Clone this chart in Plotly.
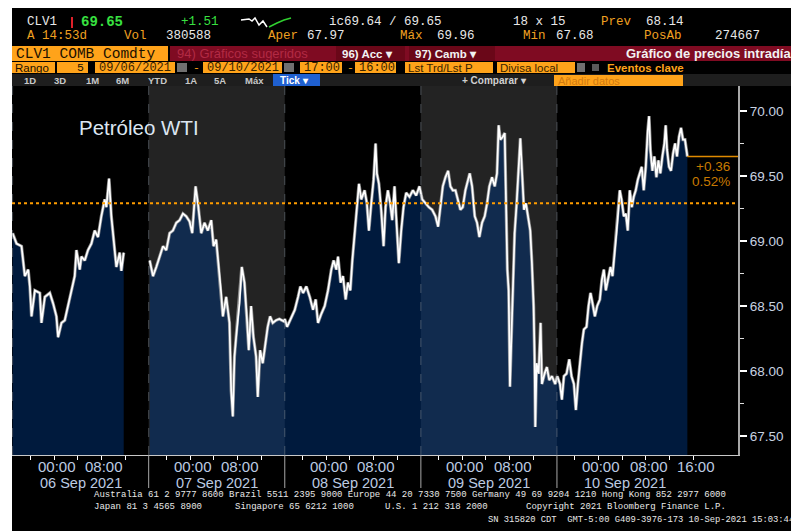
import plotly.graph_objects as go

# ---------------- data ----------------
day_labels = ["06 Sep 2021", "07 Sep 2021", "08 Sep 2021", "09 Sep 2021", "10 Sep 2021"]
session_hours = 23  # 17:00 -> 16:00

# hours since 17:00 of the previous day, and CL price
sep06_hours = [0, 0.67, 1.51, 2.07, 2.64, 2.92, 3.2, 3.76, 4.6, 4.88, 5.45, 6.29, 6.85, 7.41, 7.69, 8.26, 8.82, 9.38,
               9.94, 10.5, 10.79, 11.35, 11.63, 12.19, 12.75, 13.32, 13.88, 14.44, 15.0, 15.57, 15.85, 16.3, 16.69,
               17.26, 17.54, 18.1, 18.38, 18.78]
sep06_prices = [69.06, 68.98, 68.96, 68.73, 68.78, 68.65, 68.42, 68.62, 68.60, 68.37, 68.57, 68.60, 68.52, 68.42,
                68.26, 68.37, 68.39, 68.50, 68.60, 68.73, 68.93, 68.78, 68.88, 68.85, 68.93, 68.98, 69.08, 69.03,
                69.19, 69.32, 69.26, 69.48, 69.19, 68.93, 68.80, 68.91, 68.77, 68.91]

sep07_hours = [0.17, 0.73, 1.29, 1.85, 2.42, 2.98, 3.54, 4.10, 4.67, 5.23, 5.79, 6.35, 6.91, 7.36, 7.93, 8.32, 8.88,
               9.44, 10.0, 10.57, 10.96, 11.41, 11.86, 12.25, 12.54, 13.1, 13.66, 13.94, 14.22, 14.5, 14.78, 15.35,
               15.74, 16.19, 16.58, 16.92, 17.31, 17.71, 18.16, 18.44, 18.83, 19.28, 19.73, 20.12, 20.52, 20.97,
               21.53, 22.09, 22.93]
sep07_prices = [68.85, 68.73, 68.80, 68.88, 68.96, 68.93, 69.06, 69.08, 69.14, 69.16, 69.21, 69.19, 69.15, 69.06,
                69.42, 69.29, 69.06, 69.14, 69.08, 69.16, 68.96, 69.01, 68.80, 68.60, 68.42, 68.57, 68.37, 67.85,
                67.65, 68.11, 68.26, 68.52, 68.80, 68.68, 68.42, 68.16, 68.50, 68.26, 68.11, 67.80, 68.16, 68.06,
                68.21, 68.34, 68.42, 68.37, 68.39, 68.40, 68.38]

sep08_hours = [0, 0.39, 1.12, 1.69, 2.25, 2.64, 3.09, 3.65, 4.22, 4.78, 5.23, 5.62, 6.18, 6.75, 7.31, 7.87, 8.26,
               8.71, 9.0, 9.44, 9.84, 10.29, 10.68, 11.08, 11.42, 11.81, 12.2, 12.54, 12.93, 13.49, 13.88, 14.22,
               14.62, 15.01, 15.35, 15.57, 15.91, 16.3, 16.7, 17.03, 17.43, 17.82, 18.16, 18.55, 18.83, 19.28, 19.68,
               20.07, 20.52, 21.08, 21.65, 22.21, 22.77, 22.95]
sep08_prices = [68.40, 68.34, 68.42, 68.47, 68.57, 68.65, 68.60, 68.65, 68.57, 68.47, 68.55, 68.37, 68.44, 68.50,
                68.62, 68.78, 68.85, 68.78, 68.88, 68.68, 68.73, 68.55, 68.68, 68.62, 68.85, 69.06, 69.24, 69.44,
                69.32, 69.39, 69.29, 69.08, 69.29, 69.47, 69.75, 69.52, 69.44, 69.24, 68.96, 69.26, 69.39, 69.29,
                69.16, 69.42, 69.19, 68.83, 69.08, 69.26, 69.37, 69.34, 69.39, 69.35, 69.42, 69.37]

sep09_hours = [0.22, 0.79, 1.35, 1.91, 2.47, 2.92, 3.32, 3.71, 4.16, 4.61, 5.0, 5.4, 5.85, 6.3, 6.69, 7.08, 7.53,
               7.98, 8.26, 8.66, 9.11, 9.5, 9.89, 10.34, 10.79, 11.19, 11.58, 12.03, 12.48, 12.87, 13.15, 13.43,
               13.83, 14.17, 14.39, 14.62, 14.84, 15.06, 15.29, 15.57, 15.85, 16.19, 16.53, 16.81, 17.09, 17.43,
               17.76, 18.1, 18.49, 18.77, 19.06, 19.22, 19.34, 19.56, 19.9, 20.24, 20.46, 20.91, 21.3, 21.7, 22.15,
               22.71]
sep09_prices = [69.32, 69.29, 69.26, 69.24, 69.19, 69.11, 69.29, 69.42, 69.49, 69.54, 69.42, 69.39, 69.39, 69.32,
                69.24, 69.26, 69.39, 69.47, 69.52, 69.42, 69.19, 69.14, 69.03, 69.14, 69.19, 69.29, 69.42, 69.49,
                69.42, 69.52, 69.89, 69.78, 69.80, 69.83, 69.39, 68.78, 68.62, 67.88, 68.24, 68.62, 69.06, 69.29,
                69.60, 69.79, 69.54, 69.24, 69.29, 69.19, 69.08, 68.83, 68.50, 68.11, 67.57, 68.06, 67.98, 68.37,
                67.90, 67.98, 68.03, 67.93, 67.96, 67.90]

sep10_hours = [0.06, 0.51, 0.84, 1.18, 1.63, 2.08, 2.47, 2.87, 3.2, 3.54, 3.88, 4.22, 4.55, 5.0, 5.34, 5.68, 6.02,
               6.41, 6.8, 7.25, 7.59, 7.93, 8.26, 8.66, 9.05, 9.39, 9.73, 10.06, 10.34, 10.62, 10.91, 11.3, 11.64,
               11.97, 12.31, 12.65, 12.98, 13.32, 13.66, 14.0, 14.33, 14.67, 15.01, 15.35, 15.57, 15.8, 16.13, 16.47,
               16.81, 17.15, 17.48, 17.82, 18.16, 18.38, 18.61, 18.94, 19.28, 19.62, 19.96, 20.29, 20.63, 20.97,
               21.3, 21.64, 21.87, 22.04]
sep10_prices = [67.96, 67.90, 67.78, 67.96, 67.98, 68.09, 67.96, 67.90, 67.70, 67.90, 68.09, 68.21, 68.32, 68.34,
                68.50, 68.60, 68.52, 68.42, 68.50, 68.55, 68.70, 68.78, 68.62, 68.70, 68.80, 68.73, 68.93, 69.06,
                69.21, 69.39, 69.32, 69.19, 69.21, 69.08, 69.39, 69.26, 69.34, 69.39, 69.47, 69.52, 69.57, 69.39,
                69.57, 69.85, 69.96, 69.70, 69.54, 69.65, 69.49, 69.62, 69.52, 69.65, 69.75, 69.89, 69.70, 69.57,
                69.54, 69.67, 69.75, 69.65, 69.80, 69.87, 69.78, 69.78, 69.67, 69.65]

reference_price = 69.29
last_price = 69.65
change_text = "+0.36"
change_pct_text = "0.52%"

time_tick_hours = [7, 15]          # 00:00 and 08:00 within a session
time_tick_labels = ["00:00", "08:00"]
minor_tick_hours = [3, 7, 11, 15, 19]
y_ticks = [67.5, 68.0, 68.5, 69.0, 69.5, 70.0]
y_minor_ticks = [67.75, 68.25, 68.75, 69.25, 69.75]

# ---------------- geometry helpers ----------------
OFF = 8                      # page body margin
W, H = 799 - OFF, 531 - OFF  # figure size
PL, PR, PT, PB = 12, 738, 86, 455   # plot area in screenshot pixels
XMIN, XMAX = -0.1, 122.6
YMIN, YMAX = 67.354, 70.192


def px(x):
    return (x - PL) / (PR - PL)


def py(y):
    return (PB - y) / (PB - PT)


def xdata_to_paper(v):
    return (v - XMIN) / (XMAX - XMIN)


MONO = "Liberation Mono"
SANS = "Liberation Sans"

days_hours = [sep06_hours, sep07_hours, sep08_hours, sep09_hours, sep10_hours]
days_prices = [sep06_prices, sep07_prices, sep08_prices, sep09_prices, sep10_prices]

segA_x = list(sep06_hours)
segA_y = list(sep06_prices)
segB_x, segB_y = [], []
for d in range(1, 5):
    segB_x += [d * session_hours + h for h in days_hours[d]]
    segB_y += days_prices[d]

fig = go.Figure()
for sx, sy in [(segA_x, segA_y), (segB_x, segB_y)]:
    fig.add_trace(go.Scatter(x=sx, y=sy, mode="lines", line=dict(width=0), fill="tozeroy",
                             fillcolor="rgba(0,52,122,0.5)", hoverinfo="skip", showlegend=False))
for sx, sy in [(segA_x, segA_y), (segB_x, segB_y)]:
    fig.add_trace(go.Scatter(x=sx, y=sy, mode="lines", line=dict(width=3.2, color="rgba(165,165,165,0.8)"),
                             hoverinfo="skip", showlegend=False))
    fig.add_trace(go.Scatter(x=sx, y=sy, mode="lines", line=dict(width=1.7, color="#ffffff"),
                             hoverinfo="skip", showlegend=False))

shapes = []
annotations = []


def box(x0, y0, x1, y1, color, layer="above"):
    shapes.append(dict(type="rect", xref="paper", yref="paper", x0=px(x0), x1=px(x1), y0=py(y1), y1=py(y0),
                       fillcolor=color, line=dict(width=0), layer=layer))


def text(t, x, y, color, size, family=MONO, anchor="left", bold=False):
    if bold:
        t = "<b>" + t + "</b>"
    annotations.append(dict(text=t, x=px(x), y=py(y), xref="paper", yref="paper", xanchor=anchor,
                            yanchor="middle", showarrow=False, font=dict(color=color, size=size, family=family)))


# gray bands for alternating days
for d in [1, 3]:
    shapes.append(dict(type="rect", xref="x", yref="paper", x0=d * session_hours, x1=(d + 1) * session_hours,
                       y0=0, y1=1, fillcolor="#232323", line=dict(width=0), layer="below"))
# dashed day separators in plot
for d in range(5):
    shapes.append(dict(type="line", xref="x", yref="paper", x0=d * session_hours, x1=d * session_hours, y0=0, y1=1,
                       line=dict(color="rgba(120,130,140,0.55)", width=1, dash="dash"), layer="above"))
# separators below axis
for d in range(1, 5):
    shapes.append(dict(type="line", xref="x", yref="paper", x0=d * session_hours, x1=d * session_hours, y0=py(488),
                       y1=0, line=dict(color="#a8a8a8", width=1)))

# reference dotted line and last price line
shapes.append(dict(type="line", xref="paper", yref="y", x0=0, x1=1, y0=reference_price, y1=reference_price,
                   line=dict(color="#ff9d00", width=2, dash="dot")))
last_x = 4 * session_hours + sep10_hours[-1]
shapes.append(dict(type="line", xref="paper", yref="y", x0=xdata_to_paper(last_x), x1=1, y0=last_price,
                   y1=last_price, line=dict(color="#e08a00", width=1.5)))
text(change_text, 732, 166, "#c87a00", 13.5, family=SANS, anchor="right")
text(change_pct_text, 732, 181, "#c87a00", 13.5, family=SANS, anchor="right")

# chart title
text("Petróleo WTI", 77, 128, "#dce6f2", 20.5, family=SANS)

# time labels and date labels under axis
for d, lab in enumerate(day_labels):
    for h, tl in zip(time_tick_hours, time_tick_labels):
        annotations.append(dict(text=tl, x=d * session_hours + h + 0.5, y=py(466), xref="x", yref="paper",
                                xanchor="center", yanchor="middle", showarrow=False,
                                font=dict(color="#bccbe2", size=15, family=SANS)))
    annotations.append(dict(text=lab, x=d * session_hours + session_hours / 2, y=py(482.5),
                            xref="x", yref="paper", xanchor="center", yanchor="middle", showarrow=False,
                            font=dict(color="#bccbe2", size=14.5, family=SANS)))
annotations.append(dict(text="16:00", x=5 * session_hours + 0.5, y=py(466), xref="x", yref="paper",
                        xanchor="center", yanchor="middle", showarrow=False,
                        font=dict(color="#bccbe2", size=15, family=SANS)))

# ---------------- header ----------------
box(OFF, OFF, 12, 531, "#ffffff")

# row 1
text("CLV1", 25, 22, "#e8e8e8", 12.5)
box(71, 17, 73, 28, "#e0202a")
text("69.65", 79, 22, "#38e040", 14, bold=True)
text("+1.51", 179, 22, "#38e040", 12.5)
shapes.append(dict(type="path", xref="paper", yref="paper",
                   path="M {} {} L {} {} L {} {} L {} {} L {} {} L {} {} L {} {}".format(
                       px(241), py(20), px(249), py(19), px(252), py(21), px(255), py(18), px(259), py(25),
                       px(263), py(21), px(267), py(27)),
                   line=dict(color="#ffffff", width=1.5)))
shapes.append(dict(type="path", xref="paper", yref="paper",
                   path="M {} {} L {} {} L {} {} L {} {}".format(
                       px(269), py(27), px(277), py(23), px(284), py(20), px(291), py(18)),
                   line=dict(color="#30d030", width=1.5)))
text("ic69.64 / 69.65", 327, 22, "#e8e8e8", 12.5)
text("18 x 15", 511, 22, "#e8e8e8", 12.5)
text("Prev", 599, 22, "#f0a020", 12.5)
text("68.14", 644, 22, "#e8e8e8", 12.5)

# row 2
text("A 14:53d", 25, 36, "#f0a020", 12.5)
text("Vol", 122, 36, "#f0a020", 12.5)
text("380588", 164, 36, "#e8e8e8", 12.5)
text("Aper", 266, 36, "#f0a020", 12.5)
text("67.97", 305, 36, "#e8e8e8", 12.5)
text("Máx", 398, 36, "#f0a020", 12.5)
text("69.96", 435, 36, "#e8e8e8", 12.5)
text("Mín", 521, 36, "#f0a020", 12.5)
text("67.68", 554, 36, "#e8e8e8", 12.5)
text("PosAb", 642, 36, "#f0a020", 12.5)
text("274667", 713, 36, "#e8e8e8", 12.5)

# row 3
box(12, 46, 168, 61, "#ffa31a")
text("CLV1 COMB Comdty", 14, 53.5, "#1a1000", 14.5)
box(170, 46, 799, 61, "#7f0b22")
text("94) Gráficos sugeridos", 175, 53.5, "#b22a44", 13, family=SANS)
box(336, 46, 405, 61, "#6a0718")
text("96) Acc ▾", 340, 53.5, "#f2f2f2", 11.5, family=SANS, bold=True)
box(409, 46, 495, 61, "#6a0718")
text("97) Camb ▾", 413, 53.5, "#f2f2f2", 11.5, family=SANS, bold=True)
text("Gráfico de precios intradía", 793, 53.5, "#f2f2f2", 13, family=SANS, anchor="right", bold=True)

# row 4
R4 = 68
box(12, 62, 55, 73, "#ffa31a")
text("Rango", 13, R4, "#1a1000", 11.5, family=SANS)
box(57, 62, 88, 73, "#ffa31a")
text("5", 86, R4, "#1a1000", 11.5, anchor="right")
box(95, 62, 175, 73, "#ffa31a")
text("09/06/2021", 97, R4, "#3a2400", 12)
box(177, 63, 187, 72, "#707070")
text("-", 191, R4, "#ffa31a", 11.5)
box(203, 62, 282, 73, "#ffa31a")
text("09/10/2021", 205, R4, "#3a2400", 12)
box(284, 63, 294, 72, "#707070")
box(300, 62, 342, 73, "#ffa31a")
text("17:00", 302, R4, "#3a2400", 12)
text("-", 345, R4, "#ffa31a", 11.5)
box(355, 62, 396, 73, "#ffa31a")
text("16:00", 357, R4, "#3a2400", 12)
box(405, 62, 493, 73, "#ffa31a")
text("Lst Trd/Lst P", 406, R4, "#3a2400", 11.5, family=SANS)
box(497, 62, 575, 73, "#ffa31a")
text("Divisa local", 498, R4, "#3a2400", 11.5, family=SANS)
box(577, 63, 585, 72, "#707070")
box(592, 64, 599, 71, "#5a5a5a")
text("Eventos clave", 605, R4, "#ffa31a", 11.5, family=SANS, bold=True)

# row 5
box(12, 74, 799, 86, "#1e1e1e")
for lab, xx in [("1D", 22), ("3D", 52), ("1M", 84), ("6M", 114), ("YTD", 146), ("1A", 183), ("5A", 212),
                ("Máx", 243)]:
    text(lab, xx, 80.5, "#c8c8c8", 9.5, family=SANS, bold=True)
box(273, 74, 320, 86, "#1f60d0")
text("Tick ▾", 278, 80.5, "#ffffff", 10, family=SANS, bold=True)
text("+ Comparar ▾", 460, 80.5, "#d0d0d0", 10, family=SANS, bold=True)
box(554, 75, 683, 86, "#ffa31a")
text("Añadir datos", 556, 80.5, "#d07a10", 11, family=SANS)

# ---------------- footer ----------------
text("Australia 61 2 9777 8600 Brazil 5511 2395 9000 Europe 44 20 7330 7500 Germany 49 69 9204 1210 Hong Kong 852 2977 6000",
     92, 495, "#e8e8e8", 9)
text("Japan 81 3 4565 8900", 92, 507, "#e8e8e8", 9)
text("Singapore 65 6212 1000", 233, 507, "#e8e8e8", 9)
text("U.S. 1 212 318 2000", 383, 507, "#e8e8e8", 9)
text("Copyright 2021 Bloomberg Finance L.P.", 524, 507, "#e8e8e8", 9)
text("SN 315820 CDT  GMT-5:00 G409-3976-173 10-Sep-2021 15:03:44", 796, 520, "#e8e8e8", 8.8, anchor="right")

# ---------------- axes ----------------
x_tickvals = [d * session_hours + h for d in range(5) for h in time_tick_hours] + [5 * session_hours]
x_minor = [d * session_hours + h for d in range(5) for h in minor_tick_hours] + [5 * session_hours]

fig.update_layout(
    width=W, height=H, autosize=False,
    margin=dict(l=PL - OFF, r=799 - PR, t=PT - OFF, b=531 - PB, pad=0),
    paper_bgcolor="#000000", plot_bgcolor="#000000",
    showlegend=False,
    shapes=shapes, annotations=annotations,
    xaxis=dict(range=[XMIN, XMAX], showgrid=False, zeroline=False, showline=True, linecolor="#c8c8c8",
               linewidth=1, tickmode="array", tickvals=x_tickvals, showticklabels=False, ticks="outside",
               ticklen=4, tickcolor="#ffffff", tickwidth=1,
               minor=dict(tickmode="array", tickvals=x_minor, ticks="outside", ticklen=4, tickcolor="#ffffff"),
               fixedrange=True),
    yaxis=dict(range=[YMIN, YMAX], side="right", showgrid=False, zeroline=False, showline=True,
               linecolor="#a8a8a8", linewidth=2, tickmode="array", tickvals=y_ticks,
               ticktext=["{:.2f}".format(v) for v in y_ticks], ticks="outside", ticklen=7, tickwidth=2,
               tickcolor="#ffffff",
               minor=dict(tickmode="array", tickvals=y_minor_ticks, ticks="outside", ticklen=4,
                          tickcolor="#dddddd", tickwidth=1),
               tickfont=dict(color="#c8d2e0", size=13.5, family=SANS), fixedrange=True),
)

fig.write_html("out.html")
